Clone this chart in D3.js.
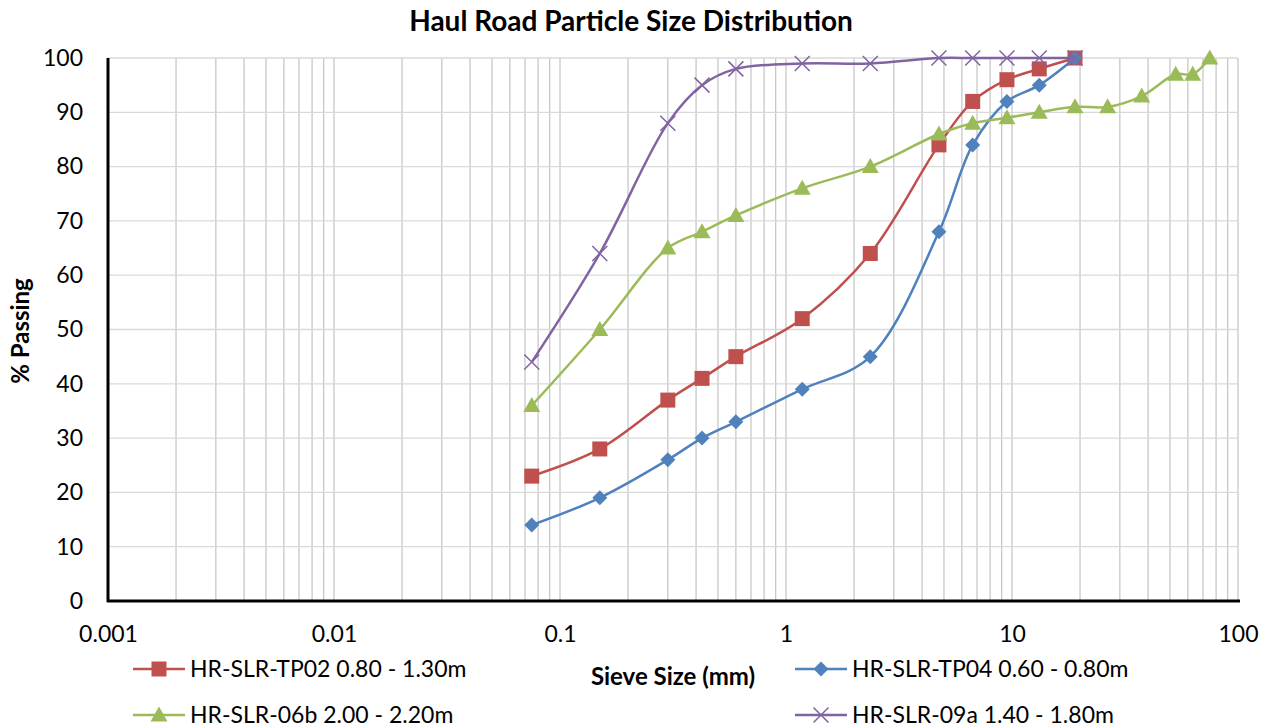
<!DOCTYPE html>
<html>
<head>
<meta charset="utf-8">
<script src="https://cdn.jsdelivr.net/npm/d3@7"></script>
<style>
  body { margin: 0; background: #fff; }
  svg { font-family: Lato, "Open Sans", sans-serif; }
</style>
</head>
<body>
<main></main>
<script>
const sieveShort = [0.075, 0.15, 0.3, 0.425, 0.6, 1.18, 2.36, 4.75, 6.7, 9.5, 13.2, 19];
const sieveLong = [0.075, 0.15, 0.3, 0.425, 0.6, 1.18, 2.36, 4.75, 6.7, 9.5, 13.2, 19, 26.5, 37.5, 53, 63, 75];

const tp02 = [23, 28, 37, 41, 45, 52, 64, 84, 92, 96, 98, 100];
const tp04 = [14, 19, 26, 30, 33, 39, 45, 68, 84, 92, 95, 100];
const s06b = [36, 50, 65, 68, 71, 76, 80, 86, 88, 89, 90, 91, 91, 93, 97, 97, 100];
const s09a = [44, 64, 88, 95, 98, 99, 99, 100, 100, 100, 100, 100];

const xTicks = [0.001, 0.01, 0.1, 1, 10, 100];
const yTicks = [0, 10, 20, 30, 40, 50, 60, 70, 80, 90, 100];

const series = [
  { name: "HR-SLR-TP02 0.80 - 1.30m", x: sieveShort, y: tp02, color: "#C0504D", marker: "square" },
  { name: "HR-SLR-TP04 0.60 - 0.80m", x: sieveShort, y: tp04, color: "#4F81BD", marker: "diamond" },
  { name: "HR-SLR-06b 2.00 - 2.20m", x: sieveLong, y: s06b, color: "#9BBB59", marker: "triangle" },
  { name: "HR-SLR-09a 1.40 - 1.80m", x: sieveShort, y: s09a, color: "#8064A2", marker: "cross" }
];

const W = 1271, H = 726;
const plotL = 108, plotR = 1238, plotT = 58, plotB = 601;

const svg = d3.select("main").append("svg").attr("width", W).attr("height", H);

const x = d3.scaleLog().domain([0.001, 100]).range([plotL, plotR]);
const y = d3.scaleLinear().domain([0, 100]).range([plotB, plotT]);

// grid lines
const minor = [];
for (let e = -3; e < 2; e++) for (let m = 1; m <= 9; m++) minor.push(m * Math.pow(10, e));
minor.push(100);

svg.append("g").selectAll("line").data(minor).enter().append("line")
  .attr("x1", d => x(d)).attr("x2", d => x(d))
  .attr("y1", plotT).attr("y2", plotB)
  .attr("stroke", "#c8c8c8").attr("stroke-width", 1.3);

svg.append("g").selectAll("line").data(yTicks.slice(1)).enter().append("line")
  .attr("x1", plotL).attr("x2", plotR)
  .attr("y1", d => y(d)).attr("y2", d => y(d))
  .attr("stroke", "#d9d9d9").attr("stroke-width", 1.3);

// axes
const xAxis = d3.axisBottom(x).tickValues(xTicks).tickFormat(d => String(d)).tickSize(0).tickPadding(25);
const gx = svg.append("g").attr("transform", `translate(0,${plotB})`).call(xAxis);
gx.select(".domain").attr("stroke", "#000").attr("stroke-width", 3).attr("d", `M${plotL - 1},0H${plotR + 2}`);
gx.selectAll("text").attr("font-size", 23).attr("fill", "#000").attr("font-family", "Lato, sans-serif");

const yAxis = d3.axisLeft(y).tickValues(yTicks).tickSize(0).tickPadding(25);
const gy = svg.append("g").attr("transform", `translate(${plotL},0)`).call(yAxis);
gy.select(".domain").attr("stroke", "#000").attr("stroke-width", 3).attr("d", `M0,${plotT}V${plotB + 1}`);
gy.selectAll("text").attr("font-size", 23).attr("fill", "#000").attr("font-family", "Lato, sans-serif");

// lines
const line = d3.line().curve(d3.curveCatmullRom.alpha(0.5));

function drawMarker(g, type, color, cx, cy) {
  if (type === "square") {
    g.append("rect").attr("x", cx - 7.5).attr("y", cy - 7.5).attr("width", 15).attr("height", 15)
      .attr("fill", color);
  } else if (type === "diamond") {
    g.append("path").attr("d", `M${cx},${cy - 7.5}L${cx + 7.5},${cy}L${cx},${cy + 7.5}L${cx - 7.5},${cy}Z`)
      .attr("fill", color);
  } else if (type === "triangle") {
    g.append("path").attr("d", `M${cx},${cy - 8.5}L${cx + 8.5},${cy + 6.5}L${cx - 8.5},${cy + 6.5}Z`)
      .attr("fill", color);
  } else {
    g.append("path").attr("d", `M${cx - 7.5},${cy - 7.5}L${cx + 7.5},${cy + 7.5}M${cx - 7.5},${cy + 7.5}L${cx + 7.5},${cy - 7.5}`)
      .attr("stroke", color).attr("stroke-width", 1.5).attr("fill", "none");
  }
}

series.forEach(s => {
  const pts = s.x.map((v, i) => [x(v), y(s.y[i])]);
  svg.append("path").attr("d", line(pts))
    .attr("fill", "none").attr("stroke", s.color).attr("stroke-width", 2.5);
  const g = svg.append("g");
  pts.forEach(p => drawMarker(g, s.marker, s.color, p[0], p[1]));
});

// title
svg.append("text").attr("x", 631).attr("y", 31).attr("text-anchor", "middle")
  .attr("font-size", 28).attr("font-weight", "bold").text("Haul Road Particle Size Distribution");

// axis titles
svg.append("text").attr("transform", "translate(29,331) rotate(-90)").attr("text-anchor", "middle")
  .attr("font-size", 24).attr("font-weight", "bold").text("% Passing");
svg.append("text").attr("x", 673).attr("y", 685).attr("text-anchor", "middle")
  .attr("font-size", 24).attr("font-weight", "bold").text("Sieve Size (mm)");

// legend
const legendPos = [[133, 669], [795, 669], [133, 715], [795, 715]];
series.forEach((s, i) => {
  const [lx, ly] = legendPos[i];
  const g = svg.append("g");
  g.append("line").attr("x1", lx).attr("x2", lx + 52).attr("y1", ly).attr("y2", ly)
    .attr("stroke", s.color).attr("stroke-width", 2.5);
  drawMarker(g, s.marker, s.color, lx + 26, ly);
  g.append("text").attr("x", lx + 57).attr("y", ly + 8).attr("font-size", 23).text(s.name);
});
</script>
</body>
</html>
